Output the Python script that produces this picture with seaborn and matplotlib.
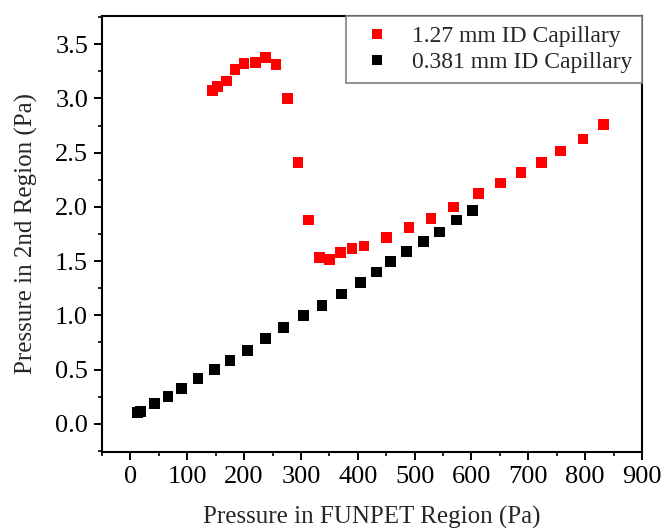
import numpy as np
import pandas as pd
import matplotlib
matplotlib.use("Agg")
import matplotlib.pyplot as plt
import seaborn as sns
from matplotlib.ticker import MultipleLocator

# 1.27 mm ID capillary
x_127 = [144, 153, 169, 184, 200, 220, 237, 256, 277, 295, 313, 333, 350, 370,
         390, 411, 450, 490, 529, 569, 613, 651, 687, 723, 757, 796, 832]
y_127 = [3.07, 3.11, 3.16, 3.27, 3.32, 3.33, 3.38, 3.31, 3.00, 2.41, 1.88, 1.535,
         1.516, 1.58, 1.615, 1.64, 1.72, 1.81, 1.894, 2.00, 2.12, 2.22, 2.32,
         2.41, 2.515, 2.626, 2.76]

# 0.381 mm ID capillary
x_381 = [12, 18, 42, 66, 90, 119, 148, 175, 206, 237, 269, 304, 337, 372, 405,
         433, 458, 486, 515, 544, 573, 602]
y_381 = [0.104, 0.116, 0.185, 0.255, 0.323, 0.415, 0.504, 0.584, 0.676, 0.784,
         0.891, 0.996, 1.092, 1.196, 1.30, 1.40, 1.497, 1.587, 1.68, 1.768,
         1.88, 1.97]

series_names = ["1.27 mm ID Capillary", "0.381 mm ID Capillary"]
series_colors = ["#FF0000", "#000000"]
x_ticks = [0, 100, 200, 300, 400, 500, 600, 700, 800, 900]
y_ticks = [0.0, 0.5, 1.0, 1.5, 2.0, 2.5, 3.0, 3.5]

df = pd.concat([
    pd.DataFrame({"x": x_127, "y": y_127, "series": series_names[0]}),
    pd.DataFrame({"x": x_381, "y": y_381, "series": series_names[1]}),
], ignore_index=True)

sns.set_style("ticks")
plt.rcParams["font.family"] = ["Liberation Serif", "DejaVu Serif"]

fig = plt.figure(figsize=(6.62, 5.28), dpi=100)
ax = fig.add_axes([102 / 662, 76 / 528, 540 / 662, 436 / 528])

sns.scatterplot(data=df, x="x", y="y", hue="series", hue_order=series_names,
                palette=series_colors, marker="s", s=60, linewidth=0,
                ax=ax, legend=True, zorder=3)

ax.set_xlim(-50, 900)
ax.set_ylim(-0.26, 3.76)
ax.set_xticks(x_ticks)
ax.set_yticks(y_ticks)
ax.set_yticklabels([f"{v:.1f}" for v in y_ticks])
ax.xaxis.set_minor_locator(MultipleLocator(50))
ax.yaxis.set_minor_locator(MultipleLocator(0.25))

for side in ["left", "bottom", "right", "top"]:
    ax.spines[side].set_visible(True)
    ax.spines[side].set_linewidth(1.5)
    ax.spines[side].set_color("black")

ax.tick_params(which="major", direction="out", length=6, width=1.4,
               labelsize=19, pad=4, colors="black")
ax.tick_params(which="minor", direction="out", length=3, width=1.4)
ax.tick_params(top=False, right=False, which="both")

ax.set_xlabel("Pressure in FUNPET Region (Pa)", fontsize=18, labelpad=13)
ax.set_ylabel("Pressure in 2nd Region (Pa)", fontsize=18, labelpad=12)

handles, labels = ax.get_legend_handles_labels()
leg = ax.legend(handles, labels, loc="upper right", borderaxespad=0,
                fontsize=17, frameon=True, fancybox=False, edgecolor="#808080",
                handlelength=1.8, handletextpad=0.6, borderpad=0.4,
                labelspacing=0.2, markerscale=0.85)
leg.get_frame().set_linewidth(1.2)
leg.get_frame().set_alpha(1)

fig.savefig("out.png", dpi=100)
